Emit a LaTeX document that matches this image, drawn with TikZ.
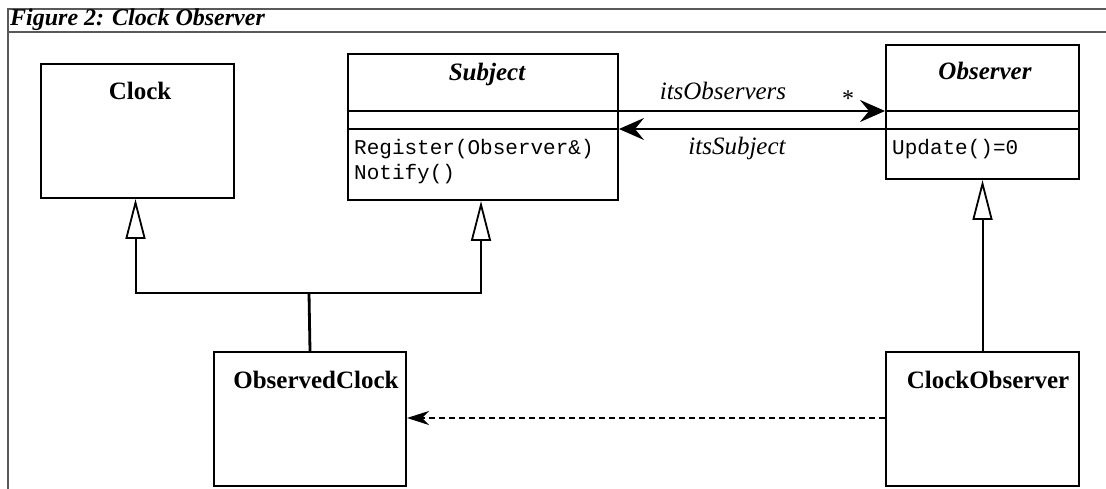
\documentclass[tikz,border=0pt]{standalone}
\usepackage{fontspec}
\setmainfont{Liberation Serif}
\setmonofont{Liberation Mono}
\usetikzlibrary{arrows.meta}

\tikzset{
  frameline/.style={draw=black!65, line width=2.6pt},
  classbox/.style={draw, line width=2pt, rectangle, inner sep=0pt, anchor=north west},
  sepline/.style={line width=2pt},
  ctitle/.style={font=\fontsize{25}{25}\selectfont\bfseries, anchor=base, inner sep=0pt},
  atitle/.style={font=\fontsize{25}{25}\selectfont\bfseries\itshape, anchor=base, inner sep=0pt},
  optext/.style={font=\fontsize{21}{21}\selectfont\ttfamily, anchor=base west, inner sep=0pt},
  rolelabel/.style={font=\fontsize{25}{25}\selectfont\itshape, anchor=base, inner sep=0pt},
  gen/.style={line width=2pt, -{Triangle[open, length=40pt, width=20pt, line width=1.8pt, fill=white]}},
  navthick/.style={line width=2.8pt, -{Stealth[length=25pt, width=22pt, inset=9pt]}},
  navthin/.style={line width=1.8pt, -{Stealth[length=25pt, width=22pt, inset=9pt]}},
  dep/.style={line width=1.8pt, dash pattern=on 6pt off 4pt, -{Stealth[length=22pt, width=14pt, inset=7pt]}},
}

\begin{document}
\begin{tikzpicture}[x=1pt, y=-1pt]
\useasboundingbox (0,0) rectangle (1106,489);

% figure frame and caption
\draw[frameline] (1106,9) -- (8,9) -- (8,489);
\draw[frameline] (8,32) -- (1106,32);
\node[font=\fontsize{24}{24}\selectfont\bfseries\itshape, anchor=base west, inner sep=0pt] (caption) at (10,26) {Figure 2: Clock Observer};

% classes
\node[classbox, minimum width=193pt, minimum height=134pt] (clock) at (40,63) {};
\node[ctitle] (clocktitle) at (140,100) {Clock};

\node[classbox, minimum width=270pt, minimum height=146pt] (subject) at (347,53) {};
\node[atitle] (subjecttitle) at (487,81) {Subject};
\coordinate (ssep1) at (347,111);
\coordinate (ssep2) at (347,129);
\draw[sepline] (subject.west |- ssep1) -- (subject.east |- ssep1);
\draw[sepline] (subject.west |- ssep2) -- (subject.east |- ssep2);
\node[optext] (register) at (354,155) {Register(Observer\&)};
\node[optext] (notify) at (354,180) {Notify()};

\node[classbox, minimum width=193pt, minimum height=134pt] (observer) at (885,44) {};
\node[atitle] (observertitle) at (985,80) {Observer};
\draw[sepline] (observer.west |- ssep1) -- (observer.east |- ssep1);
\draw[sepline] (observer.west |- ssep2) -- (observer.east |- ssep2);
\node[optext] (update) at (892,155) {Update()=0};

\node[classbox, minimum width=192pt, minimum height=134pt] (oclock) at (213,351) {};
\node[ctitle] (oclocktitle) at (316,388) {ObservedClock};

\node[classbox, minimum width=193pt, minimum height=134pt] (cobserver) at (885,351) {};
\node[ctitle] (cobservertitle) at (988,388) {ClockObserver};

% associations
\draw[navthick] (subject.east |- ssep1) -- (observer.west |- ssep1);
\node[rolelabel] (obslabel) at (723,100) {itsObservers};
\node[font=\fontsize{24}{24}\selectfont, anchor=base, inner sep=0pt] (mult) at (848,107) {*};
\draw[navthin] (observer.west |- ssep2) -- (subject.east |- ssep2);
\node[rolelabel] (subjlabel) at (737,155) {itsSubject};

% generalizations
\coordinate (join) at (309,293);
\draw[gen] (join) -| ([xshift=-2pt]clock.south);
\draw[gen] (join) -| ([xshift=-2pt]subject.south);
\draw[line width=2.8pt] (join) -- (oclock.north);
\draw[gen] (cobserver.north) -- (observer.south);

% dependency
\coordinate (deplevel) at (0,418);
\draw[dep] (cobserver.west |- deplevel) -- (oclock.east |- deplevel);
\end{tikzpicture}
\end{document}
